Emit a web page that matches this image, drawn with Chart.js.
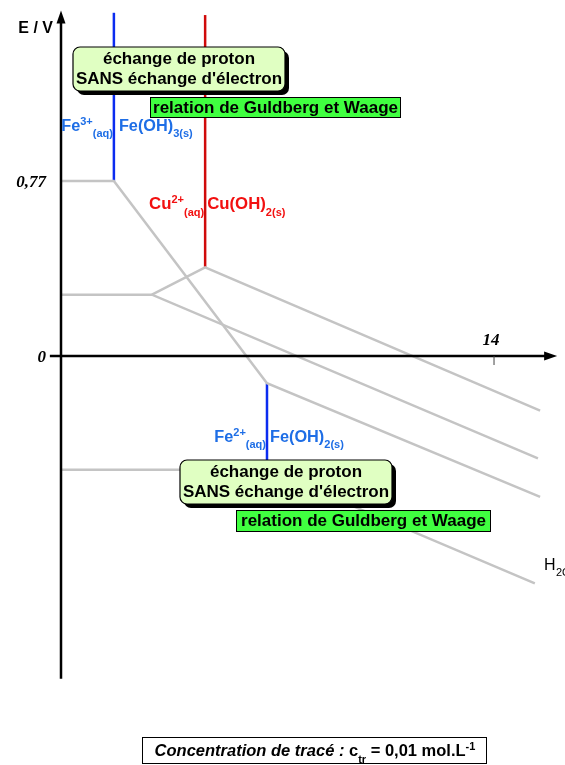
<!DOCTYPE html>
<html lang="fr">
<head>
<meta charset="UTF-8" />
<title>Diagramme E-pH : fer et cuivre</title>
<script src="https://cdn.jsdelivr.net/npm/chart.js"></script>
<style>
  body { margin: 0; background: #fff; }
  #wrap { width: 565px; height: 765px; }
</style>
</head>
<body>
<div id="wrap"><canvas id="ephChart" width="565" height="765"></canvas></div>
<script>
// boundaries, as [pH, E (V)] polylines
const feIIIfeII = [[0, 0.77], [1.71, 0.77], [6.66, -0.12], [15.49, -0.62]];
const feIIfe = [[0, -0.50], [6.66, -0.50], [15.32, -1.00]];
const cuIcu = [[0, 0.27], [2.94, 0.27], [15.42, -0.45]];
const cuIIcuI = [[2.94, 0.27], [4.66, 0.39], [15.49, -0.24]];
// precipitation boundaries (vertical)
const feIIIprecip = [[1.71, 0.77], [1.71, 1.51]];
const cuIIprecip = [[4.66, 0.39], [4.66, 1.50]];
const feIIprecip = [[6.66, -0.12], [6.66, -0.50]];

// axes
const xAxisRange = [-0.36, 16.04];
const yAxisRange = [-1.42, 1.52];
const xTicks = [14];
const xTickText = ['14'];
const yTicks = [0.77, 0];
const yTickText = ['0,77', '0'];

const FONT = "'Liberation Sans', Arial, sans-serif";
const SERIF = "'Liberation Serif', 'Times New Roman', serif";
const GRAY = '#c4c4c4';
const BLUE_TXT = '#1e6ee6';
const RED_TXT = '#f21010';

const toXY = pts => pts.map(p => ({ x: p[0], y: p[1] }));

function seg(data, color) {
  return {
    data: toXY(data),
    borderColor: color,
    borderWidth: 2.5,
    pointRadius: 0,
    fill: false,
    tension: 0
  };
}

// species labels on each side of a vertical boundary
const speciesLabels = [
  { pH: 1.71, E: 0.99, size: 16.3, color: BLUE_TXT, gap: 5,
    left: [['Fe'], ['3+', 'sup'], ['(aq)', 'sub']],
    right: [['Fe(OH)'], ['3(s)', 'sub']] },
  { pH: 4.66, E: 0.647, size: 16.8, color: RED_TXT, gap: 2,
    left: [['Cu'], ['2+', 'sup'], ['(aq)', 'sub']],
    right: [['Cu(OH)'], ['2(s)', 'sub']] },
  { pH: 6.66, E: -0.378, size: 16.3, color: BLUE_TXT, gap: 3,
    left: [['Fe'], ['2+', 'sup'], ['(aq)', 'sub']],
    right: [['Fe(OH)'], ['2(s)', 'sub']] }
];

const noteBoxes = [
  { x: 73, y: 47, w: 212, h: 44, lines: ['échange de proton', "SANS échange d'électron"] },
  { x: 180, y: 460, w: 212, h: 44, lines: ['échange de proton', "SANS échange d'électron"] }
];
const lawBoxes = [
  { x: 150, y: 97, w: 251, h: 21, text: 'relation de Guldberg et Waage' },
  { x: 236, y: 510, w: 255, h: 22, text: 'relation de Guldberg et Waage' }
];

function partFont(p, size) {
  const small = p[1] === 'sup' || p[1] === 'sub';
  const s = small ? Math.round(size * 0.68) : size;
  return (p[2] === 'italic' ? 'italic ' : '') + 'bold ' + s + 'px ' + FONT;
}

function richWidth(ctx, parts, size) {
  let w = 0;
  parts.forEach(p => { ctx.font = partFont(p, size); w += ctx.measureText(p[0]).width; });
  return w;
}

function drawRich(ctx, parts, x, y, size, align) {
  const w = richWidth(ctx, parts, size);
  let cx = align === 'right' ? x - w : align === 'center' ? x - w / 2 : x;
  ctx.textAlign = 'left';
  ctx.textBaseline = 'alphabetic';
  parts.forEach(p => {
    ctx.font = partFont(p, size);
    const dy = p[1] === 'sup' ? -size * 0.38 : p[1] === 'sub' ? size * 0.4 : 0;
    ctx.fillText(p[0], cx, y + dy);
    cx += ctx.measureText(p[0]).width;
  });
}

function roundRect(ctx, x, y, w, h, r) {
  ctx.beginPath();
  ctx.moveTo(x + r, y);
  ctx.arcTo(x + w, y, x + w, y + h, r);
  ctx.arcTo(x + w, y + h, x, y + h, r);
  ctx.arcTo(x, y + h, x, y, r);
  ctx.arcTo(x, y, x + w, y, r);
  ctx.closePath();
}

const diagramPlugin = {
  id: 'diagram',
  beforeDatasetsDraw(chart) {
    const ctx = chart.ctx;
    ctx.save();
    ctx.fillStyle = '#fff';
    ctx.fillRect(0, 0, chart.width, chart.height);
    ctx.restore();
  },
  afterDatasetsDraw(chart) {
    const ctx = chart.ctx;
    const xs = chart.scales.x, ys = chart.scales.y;
    const x0 = xs.getPixelForValue(0), y0 = ys.getPixelForValue(0);
    const xL = xs.getPixelForValue(xAxisRange[0]), xR = xs.getPixelForValue(xAxisRange[1]);
    const yB = ys.getPixelForValue(yAxisRange[0]), yT = ys.getPixelForValue(yAxisRange[1]);
    ctx.save();

    // axes with arrows
    ctx.strokeStyle = '#000';
    ctx.fillStyle = '#000';
    ctx.lineWidth = 2.5;
    ctx.beginPath();
    ctx.moveTo(x0, yB); ctx.lineTo(x0, yT + 8);
    ctx.moveTo(xL, y0); ctx.lineTo(xR - 8, y0);
    ctx.stroke();
    ctx.beginPath();
    ctx.moveTo(x0, yT); ctx.lineTo(x0 - 4.5, yT + 13); ctx.lineTo(x0 + 4.5, yT + 13); ctx.closePath();
    ctx.fill();
    ctx.beginPath();
    ctx.moveTo(xR, y0); ctx.lineTo(xR - 13, y0 - 4.5); ctx.lineTo(xR - 13, y0 + 4.5); ctx.closePath();
    ctx.fill();

    // ticks and tick labels
    ctx.lineWidth = 1;
    ctx.strokeStyle = '#444';
    ctx.font = 'italic bold 17px ' + SERIF;
    xTicks.forEach((v, i) => {
      const px = xs.getPixelForValue(v);
      ctx.beginPath(); ctx.moveTo(px, y0); ctx.lineTo(px, y0 + 9); ctx.stroke();
      ctx.textAlign = 'center'; ctx.textBaseline = 'alphabetic';
      ctx.fillText(xTickText[i], px - 3, y0 - 11);
    });
    yTicks.forEach((v, i) => {
      const py = ys.getPixelForValue(v);
      ctx.textAlign = 'right'; ctx.textBaseline = 'middle';
      ctx.fillText(yTickText[i], x0 - 15, py + 2);
    });

    // axis title
    ctx.font = 'bold 16px ' + FONT;
    ctx.textAlign = 'right'; ctx.textBaseline = 'alphabetic';
    ctx.fillText('E / V', x0 - 8, 33);

    // species labels
    speciesLabels.forEach(s => {
      const px = xs.getPixelForValue(s.pH), py = ys.getPixelForValue(s.E);
      ctx.fillStyle = s.color;
      drawRich(ctx, s.left, px - 1, py, s.size, 'right');
      drawRich(ctx, s.right, px + s.gap, py, s.size, 'left');
    });

    // H2O / H2 couple (runs past the right edge)
    ctx.fillStyle = '#000';
    ctx.font = '16px ' + FONT;
    ctx.textAlign = 'left';
    ctx.fillText('H', 544, 570);
    ctx.font = '11px ' + FONT;
    ctx.fillText('2O / H2', 556, 576);

    // note boxes
    noteBoxes.forEach(b => {
      ctx.fillStyle = '#000';
      roundRect(ctx, b.x + 4, b.y + 4, b.w, b.h, 7);
      ctx.fill();
      ctx.fillStyle = '#e0ffc2';
      roundRect(ctx, b.x, b.y, b.w, b.h, 7);
      ctx.fill();
      ctx.lineWidth = 1.2;
      ctx.strokeStyle = '#000';
      ctx.stroke();
      ctx.fillStyle = '#000';
      ctx.font = 'bold 17px ' + FONT;
      ctx.textAlign = 'center'; ctx.textBaseline = 'alphabetic';
      ctx.fillText(b.lines[0], b.x + b.w / 2, b.y + 17);
      ctx.fillText(b.lines[1], b.x + b.w / 2, b.y + 37);
    });
    lawBoxes.forEach(b => {
      ctx.fillStyle = '#40ff40';
      ctx.fillRect(b.x, b.y, b.w, b.h);
      ctx.lineWidth = 1;
      ctx.strokeStyle = '#000';
      ctx.strokeRect(b.x + 0.5, b.y + 0.5, b.w - 1, b.h - 1);
      ctx.fillStyle = '#000';
      ctx.font = 'bold 17px ' + FONT;
      ctx.textAlign = 'center'; ctx.textBaseline = 'alphabetic';
      ctx.fillText(b.text, b.x + b.w / 2, b.y + 16);
    });

    // plotting concentration
    ctx.fillStyle = '#fff';
    ctx.fillRect(142, 737, 345, 27);
    ctx.strokeStyle = '#000';
    ctx.lineWidth = 1;
    ctx.strokeRect(142.5, 737.5, 344, 26);
    ctx.fillStyle = '#000';
    drawRich(ctx, [['Concentration de tracé :', '', 'italic'], [' c'], ['tr', 'sub'],
      [' = 0,01 mol.L'], ['-1', 'sup']], 315, 756, 16.5, 'center');

    ctx.restore();
  }
};

new Chart(document.getElementById('ephChart'), {
  type: 'scatter',
  data: {
    datasets: [
      seg(feIIIfeII, GRAY),
      seg(feIIfe, GRAY),
      seg(cuIcu, GRAY),
      seg(cuIIcuI, GRAY),
      seg(feIIIprecip, '#0b2cf0'),
      seg(cuIIprecip, '#d00a0a'),
      seg(feIIprecip, '#0b2cf0')
    ].map(d => Object.assign(d, { showLine: true, borderCapStyle: 'butt' }))
  },
  options: {
    responsive: false,
    animation: false,
    devicePixelRatio: 1,
    layout: { padding: 0 },
    plugins: { legend: { display: false }, tooltip: { enabled: false } },
    scales: {
      x: { type: 'linear', display: false, min: -61 / 30.93, max: 504 / 30.93 },
      y: { type: 'linear', display: false, min: -409 / 227.3, max: 356 / 227.3 }
    }
  },
  plugins: [diagramPlugin]
});
</script>
</body>
</html>
